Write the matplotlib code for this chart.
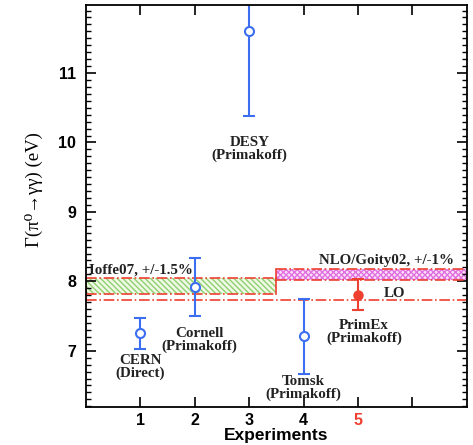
import matplotlib
matplotlib.use('Agg')
import matplotlib.pyplot as plt
from matplotlib.patches import Rectangle
from matplotlib.ticker import MultipleLocator

# measured widths (eV)
expts = [1, 2, 3, 4, 5]
widths = [7.25, 7.92, 11.60, 7.21, 7.81]
errs = [0.22, 0.42, 1.22, 0.54, 0.22]
names = ['CERN\n(Direct)', 'Cornell\n(Primakoff)', 'DESY\n(Primakoff)',
         'Tomsk\n(Primakoff)', 'PrimEx\n(Primakoff)']
name_x = [1.0, 2.09, 3.0, 4.0, 5.11]
name_y = [6.77, 7.16, 9.91, 6.46, 7.27]

# theory
ioffe_lo, ioffe_hi = 7.815, 8.045
nlo_lo, nlo_hi = 8.02, 8.18
lo_val = 7.73
split_x = 3.5

blue = '#3b6ef0'
red = '#ee4030'
serif = ['Liberation Serif', 'DejaVu Serif']
sans = ['Liberation Sans', 'DejaVu Sans']

fig = plt.figure(figsize=(4.73, 4.45), dpi=100)
ax = fig.add_axes([0.182, 0.0854, 0.805, 0.9034])
ax.set_xlim(0, 7)
ax.set_ylim(6.19, 11.98)

# bands
ax.add_patch(Rectangle((0, ioffe_lo), split_x, ioffe_hi - ioffe_lo,
                       facecolor='#f0f9e6', edgecolor='#8fd070', hatch='\\\\\\\\\\\\', lw=0))
ax.add_patch(Rectangle((split_x, nlo_lo), 7 - split_x, nlo_hi - nlo_lo,
                       facecolor='#fbe0f8', edgecolor='#e070e0', hatch='xxxxxx', lw=0))
for y in [ioffe_lo, ioffe_hi]:
    ax.plot([0, split_x], [y, y], color=red, ls='-.', lw=1.2)
for y in [nlo_lo, nlo_hi]:
    ax.plot([split_x, 7], [y, y], color=red, ls='-.', lw=1.2)
ax.plot([split_x, split_x], [ioffe_lo, ioffe_hi], color=red, lw=1.2)
ax.plot([split_x, split_x], [nlo_lo, nlo_hi], color=red, lw=1.2)
ax.plot([0, 0], [ioffe_lo, ioffe_hi], color=red, ls='-.', lw=1.2)
ax.plot([0, 7], [lo_val, lo_val], color=red, ls='-.', lw=1.2)

# data
ax.errorbar(expts[:4], widths[:4], yerr=errs[:4], fmt='o', color=blue, mfc='white',
            mec=blue, mew=1.5, ms=6.5, elinewidth=1.5, capsize=4, capthick=1.5)
ax.errorbar(expts[4:], widths[4:], yerr=errs[4:], fmt='o', color=red, mfc=red,
            mec=red, ms=6.5, elinewidth=1.5, capsize=4, capthick=1.5)

for i in range(len(names)):
    ax.text(name_x[i], name_y[i], names[i], ha='center', va='center', fontsize=10.8,
            fontweight='bold', family=serif, linespacing=0.95, color='#222222')

ax.text(5.48, 7.82, 'LO', ha='left', va='center', fontsize=10.8, fontweight='bold',
        family=serif, color='#222222')
ax.text(4.28, 8.30, 'NLO/Goity02, +/-1%', ha='left', va='center', fontsize=10.8,
        fontweight='bold', family=serif, color='#222222')
ax.text(0.06, 8.165, 'Ioffe07, +/-1.5%', ha='left', va='center', fontsize=10.8,
        fontweight='bold', family=serif, color='#222222')

# axes styling
ax.set_xticks([1, 2, 3, 4, 5, 6], ['1', '2', '3', '4', '5', ''])
ax.get_xticklabels()[4].set_color(red)
ax.set_yticks([7, 8, 9, 10, 11])
ax.yaxis.set_minor_locator(MultipleLocator(0.1))
ax.tick_params(axis='both', which='major', direction='in', length=7, width=1.2,
               top=True, right=True, labelsize=11.5)
ax.tick_params(axis='x', which='major', pad=4)
ax.tick_params(axis='y', which='major', pad=7)
ax.tick_params(axis='y', which='minor', direction='in', length=3.5, width=1.0, right=True)
for lab in ax.get_xticklabels() + ax.get_yticklabels():
    lab.set_fontweight('bold')
    lab.set_family(sans)
for s in ax.spines.values():
    s.set_linewidth(1.3)

ax.set_xlabel('Experiments', fontsize=12.5, fontweight='bold', family=sans, labelpad=0)
ax.set_ylabel('Γ(π⁰→γγ) (eV)', fontsize=13.5, family=serif)
ax.yaxis.set_label_coords(-0.113, 0.54)

fig.savefig('out.png', dpi=100)
